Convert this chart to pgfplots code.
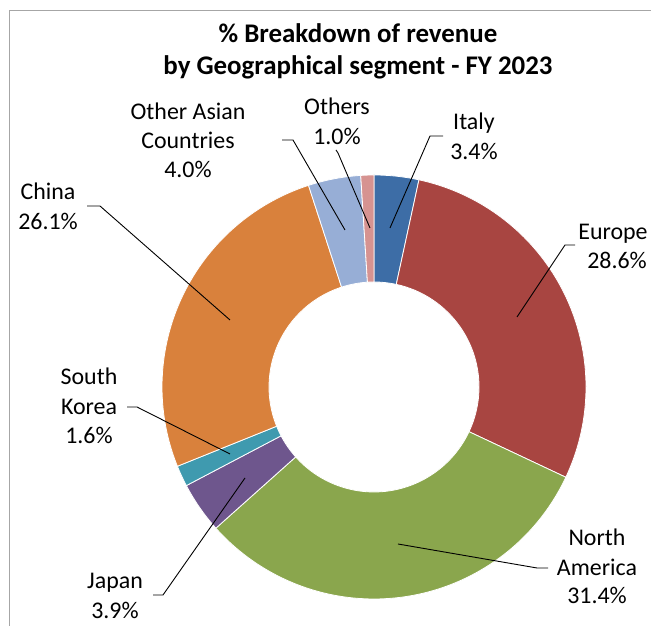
\documentclass[border=0pt]{standalone}
\usepackage{pgfplots}
\pgfplotsset{compat=1.18}
\usepackage{pgfplotstable}
\usepackage{fontspec}
\setmainfont{Carlito}
\definecolor{cItaly}{HTML}{3D6DA6}
\definecolor{cEurope}{HTML}{A84541}
\definecolor{cNA}{HTML}{8AA64D}
\definecolor{cJapan}{HTML}{6E568D}
\definecolor{cSK}{HTML}{3F9AAF}
\definecolor{cChina}{HTML}{D9813C}
\definecolor{cOA}{HTML}{97AED6}
\definecolor{cOthers}{HTML}{D69391}
\definecolor{frame}{HTML}{A6A6A6}
\pgfplotstableread{
name value col
Italy 3.4 cItaly
Europe 28.6 cEurope
NorthAmerica 31.4 cNA
Japan 3.9 cJapan
SouthKorea 1.6 cSK
China 26.1 cChina
OtherAsian 4.0 cOA
Others 1.0 cOthers
}\revtable
\newcommand{\lab}[3]{\node[anchor=base,inner sep=0pt,font=\fontsize{24}{29}\selectfont] at (#1,#2) {#3};}
\begin{document}
\begin{tikzpicture}
\begin{axis}[at={(0,0)},anchor=south west,
  x=212bp,y=212bp,scale only axis,hide axis,clip=false,
  xmin=-1.7642,xmax=1.3066,ymin=-1.1274,ymax=1.8255]
\pgfplotstablegetrowsof{\revtable}
\pgfmathtruncatemacro\N{\pgfplotsretval-1}
\def\cum{0}
\pgfplotsforeachungrouped \i in {0,...,\N}{%
  \pgfplotstablegetelem{\i}{value}\of{\revtable}\let\v\pgfplotsretval
  \pgfplotstablegetelem{\i}{col}\of{\revtable}\let\c\pgfplotsretval
  \pgfmathsetmacro\aone{90-3.6*\cum}%
  \pgfmathsetmacro\atwo{90-3.6*(\cum+\v)}%
  \edef\temp{\noexpand\fill[\c,draw=white,line width=0.8bp,line join=miter]
    (axis cs:{cos(\aone)},{sin(\aone)}) arc[start angle=\aone,end angle=\atwo,radius=212bp]
    -- (axis cs:{0.4953*cos(\atwo)},{0.4953*sin(\atwo)}) arc[start angle=\atwo,end angle=\aone,radius=105bp] -- cycle;}%
  \temp
  \pgfmathsetmacro\cum{\cum+\v}%
}
\end{axis}
\begin{scope}[x=1bp,y=-1bp,shift={(0,626bp)}]
  \draw[frame,line width=1bp] (9,700) -- (9,11) -- (700,11);
  \node[anchor=base,inner sep=0pt,font=\fontsize{27}{32}\selectfont\bfseries] at (358,43) {\% Breakdown of revenue};
  \node[anchor=base,inner sep=0pt,font=\fontsize{27}{32}\selectfont\bfseries] at (358,75) {by Geographical segment - FY 2023};
  % labels
  \lab{188}{120}{Other Asian}
  \lab{188}{149}{Countries}
  \lab{188}{178}{4.0\%}
  \lab{337}{115}{Others}
  \lab{337}{145}{1.0\%}
  \lab{474}{130}{Italy}
  \lab{474}{160}{3.4\%}
  \lab{48}{200}{China}
  \lab{48}{230}{26.1\%}
  \lab{613}{240}{Europe}
  \lab{617}{269}{28.6\%}
  \lab{89}{385}{South}
  \lab{89}{415}{Korea}
  \lab{89}{444}{1.6\%}
  \lab{115}{589}{Japan}
  \lab{115}{619}{3.9\%}
  \lab{597}{546}{North}
  \lab{597}{576}{America}
  \lab{597}{604}{31.4\%}
  % leader lines
  \begin{scope}[black,line width=0.9bp]
  \draw (87,206) -- (100,206) -- (230,320);
  \draw (282,140) -- (293,140) -- (345,230);
  \draw (336,150) -- (338,153) -- (370,228);
  \draw (443,136) -- (430,136) -- (390,228);
  \draw (575,245) -- (565,245) -- (517,317);
  \draw (548,568) -- (537,568) -- (398,544);
  \draw (127,407) -- (137,407) -- (230,454);
  \draw (153,595) -- (163,595) -- (245,478);
  \end{scope}
\end{scope}
\pgfresetboundingbox
\path[use as bounding box] (0,0) rectangle (651bp,626bp);
\end{tikzpicture}
\end{document}
